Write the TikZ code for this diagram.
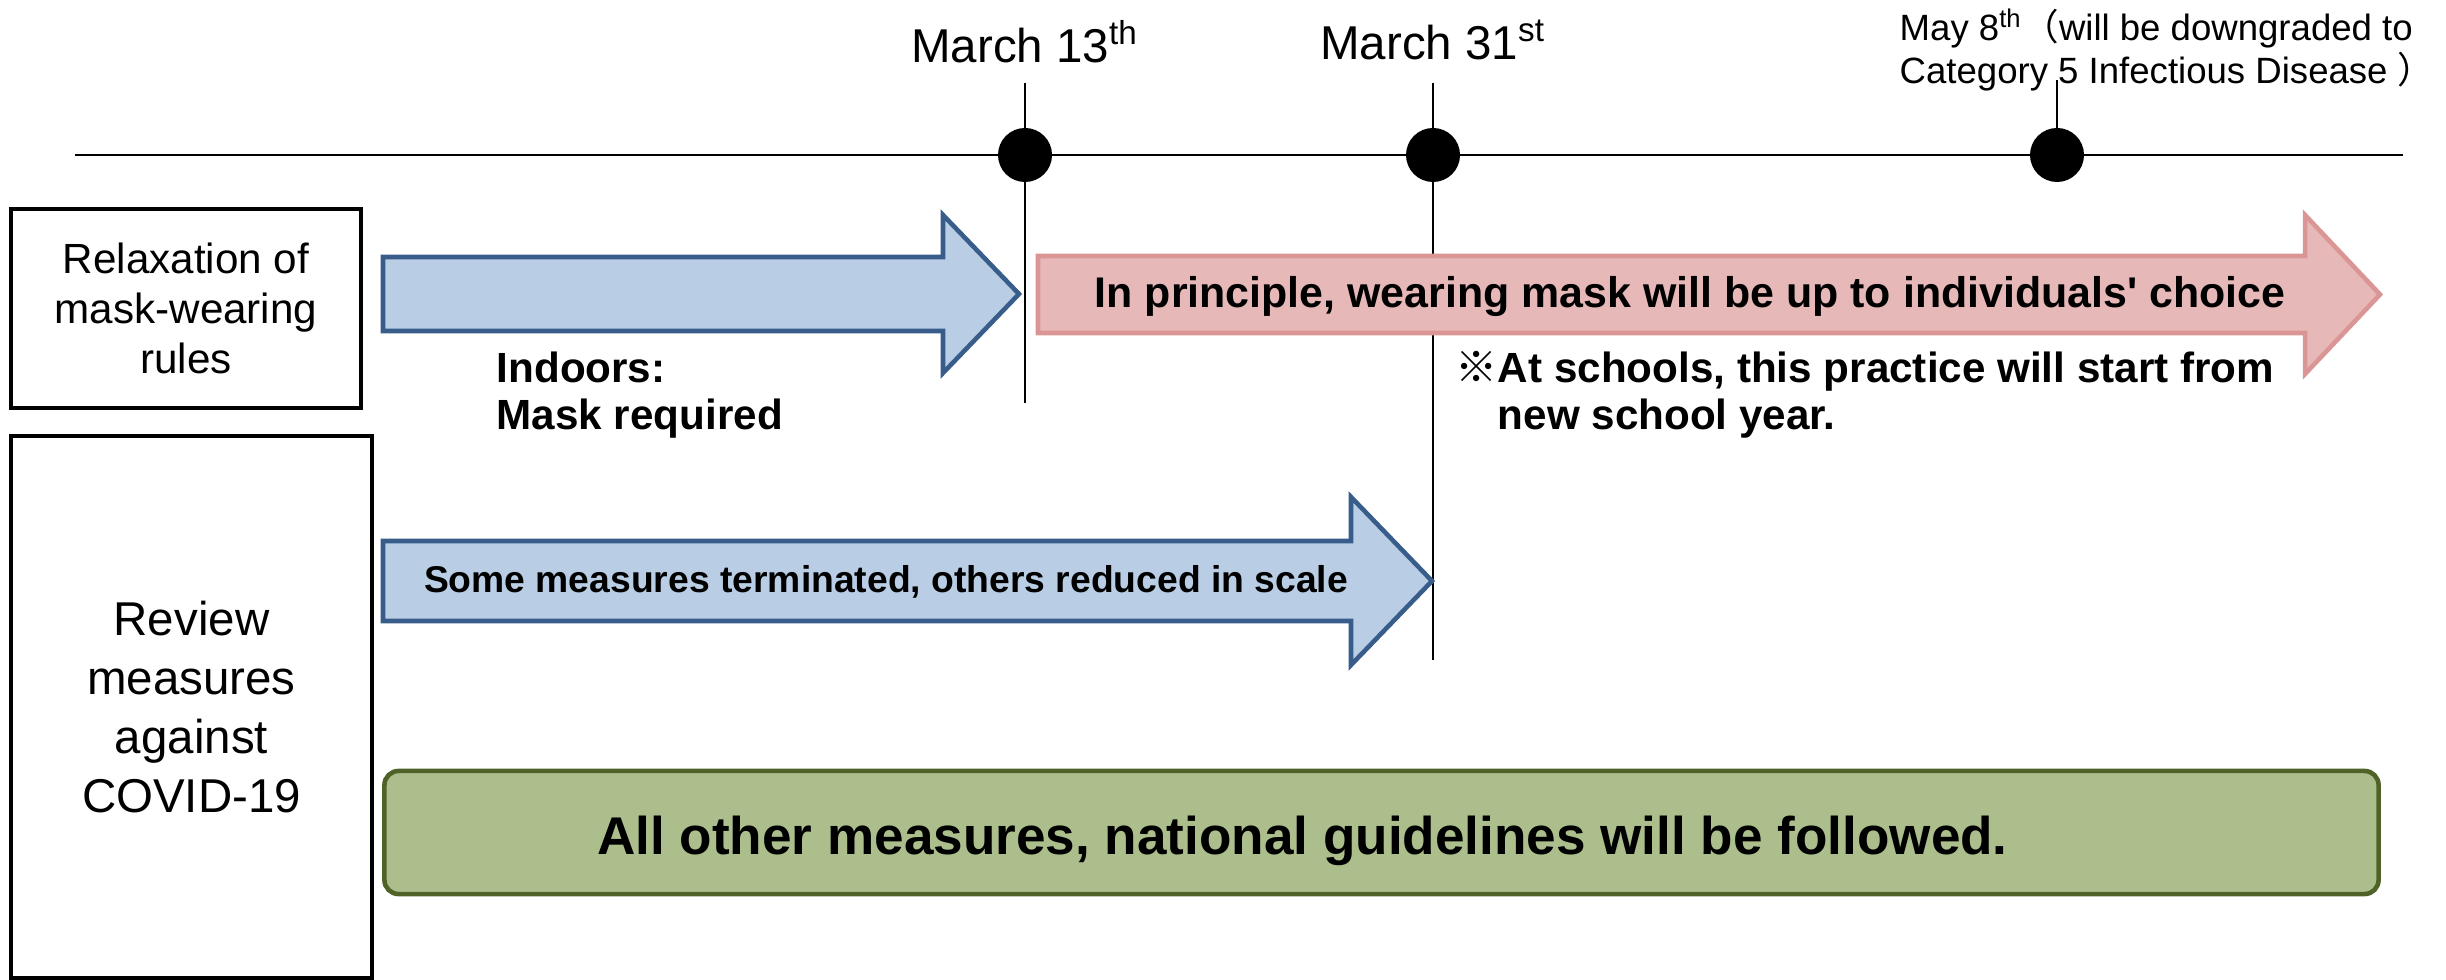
\documentclass[tikz,border=0pt]{standalone}
\usepackage{fontspec}
\setmainfont{Liberation Sans}[Ligatures=TeXOff]
\newfontfamily\cjk{Noto Sans CJK JP}
\usetikzlibrary{positioning}

\definecolor{ArrBlueFill}{HTML}{B9CDE5}
\definecolor{ArrBlueLine}{HTML}{385D8A}
\definecolor{ArrRedFill}{HTML}{E6B9B8}
\definecolor{ArrRedLine}{HTML}{D99694}
\definecolor{BarGreenFill}{HTML}{ADBE8D}
\definecolor{BarGreenLine}{HTML}{4F6228}

\begin{document}
\begin{tikzpicture}[
        %Environment config
        x=0.01cm, y=-0.01cm,
        font=\fontsize{12}{14.2}\selectfont,
        %Environment styles
        DotCfg/.style={circle, fill=black, inner sep=0pt, minimum size=0.54cm},
        TickCfg/.style={line width=0.6pt},
        DateCfg/.style={anchor=base, inner sep=0pt, font=\fontsize{13.5}{15}\selectfont},
        RowCfg/.style={draw, line width=1.1pt, align=center, inner sep=0pt},
        BlueArr/.style={fill=ArrBlueFill, draw=ArrBlueLine, line width=1.3pt},
        RedArr/.style={fill=ArrRedFill, draw=ArrRedLine, line width=1.3pt},
        NoteCfg/.style={anchor=west, align=left, inner sep=0pt,
            font=\bfseries\fontsize{12}{13.4}\selectfont}
    ]
    \useasboundingbox (0,0) rectangle (2446,980);

    %timeline
    \draw[line width=0.75pt] (75,155) coordinate (TL) -- (2403,155) coordinate (TR);
    \path
        (1025,155) coordinate (P13)
            ++ (408,0) coordinate (P31)
            ++ (624,0) coordinate (P8);
    \draw[TickCfg]
        (P13) ++(0,-72) coordinate (T13a) -- ++(0,320) coordinate (T13b)
        (P31) ++(0,-72) coordinate (T31a) -- ++(0,577) coordinate (T31b)
        (P8) ++(0,-75) coordinate (T8a) -- (P8);
    \node[DotCfg] (D13) at (P13) {};
    \node[DotCfg] (D31) at (P31) {};
    \node[DotCfg] (D8) at (P8) {};

    \node[DateCfg] (L13) at (1025,63) {March 13\textsuperscript{th}};
    \node[DateCfg] (L31) at (1433,60) {March 31\textsuperscript{st}};
    \node[anchor=west, align=left, inner sep=0pt, font=\fontsize{10.4}{10}\selectfont]
        (L8) at (1899,50)
        {May 8\textsuperscript{th}{\cjk （}will be downgraded to\\Category 5 Infectious Disease {\cjk ）}};

    %row headers
    \node[RowCfg, minimum width=3.5cm, minimum height=1.99cm] (Mask) at (186,308.5)
        {Relaxation of\\mask-wearing\\rules};
    \node[RowCfg, minimum width=3.61cm, minimum height=5.41cm,
        font=\fontsize{13.5}{16.7}\selectfont] (Review) at (191.5,707)
        {Review\\measures\\against\\COVID-19};

    %arrows
    \draw[BlueArr] (383,257) -- (943,257) -- (943,215) -- (1019,294)
        -- (943,373) -- (943,331) -- (383,331) -- cycle;
    \draw[RedArr] (1038,256) -- (2305,256) -- (2305,215) -- (2380,294.5)
        -- (2305,374) -- (2305,333) -- (1038,333) -- cycle;
    \draw[BlueArr] (383,541) -- (1351,541) -- (1351,497) -- (1432,581)
        -- (1351,665) -- (1351,621) -- (383,621) -- cycle;

    \node[font=\bfseries\fontsize{12.2}{14}\selectfont] (RedTxt) at (1690,297)
        {In principle, wearing mask will be up to individuals' choice};
    \node[font=\bfseries\fontsize{10.6}{12}\selectfont] (BlueTxt) at (886,582)
        {Some measures terminated, others reduced in scale};
    \node[NoteCfg] (Indoors) at (496,395) {Indoors:\\Mask required};
    \node[NoteCfg] (School) at (1455,395)
        {{\cjk ※}At schools, this practice will start from\\\hphantom{\cjk ※}new school year.};

    %green bar
    \node[draw=BarGreenLine, fill=BarGreenFill, line width=1.3pt, rounded corners=4pt,
        minimum width=19.93cm, minimum height=1.23cm, inner sep=0pt] (Bar) at (1381.5,832.5) {};
    \node[font=\bfseries\fontsize{15.1}{17}\selectfont] (BarTxt)
        at ([xshift=-0.79cm,yshift=-0.08cm]Bar.center)
        {All other measures, national guidelines will be followed.};
\end{tikzpicture}
\end{document}
